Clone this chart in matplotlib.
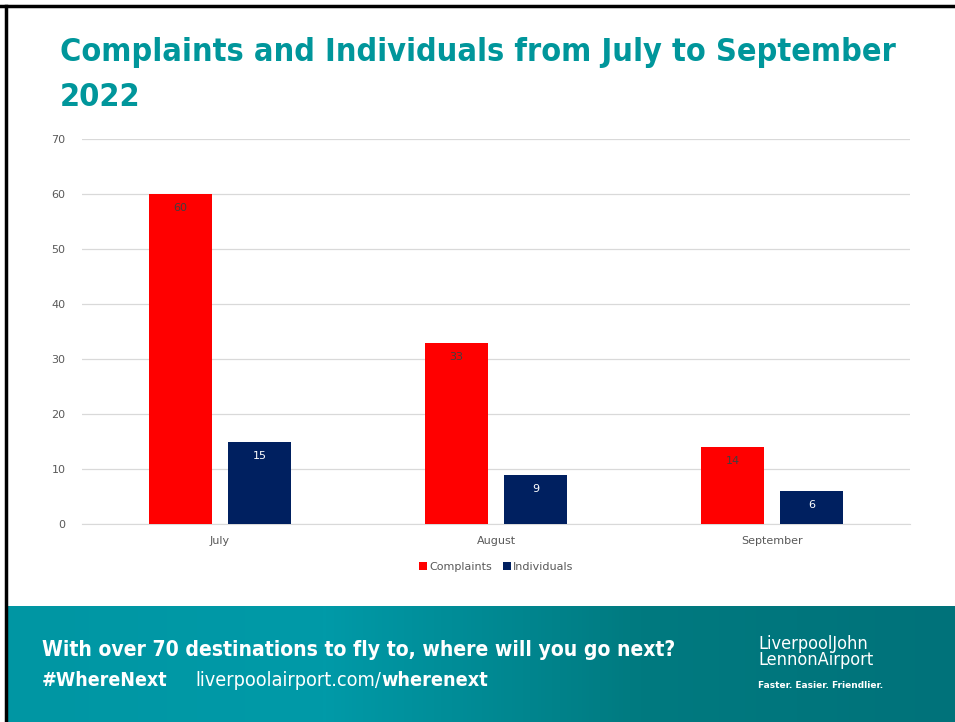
import numpy as np
import matplotlib.pyplot as plt
from matplotlib.colors import LinearSegmentedColormap

months = ['July', 'August', 'September']
complaints = [60, 33, 14]
individuals = [15, 9, 6]
y_ticks = [0, 10, 20, 30, 40, 50, 60, 70]

teal = '#00969b'
red = '#ff0000'
navy = '#002060'
grey_txt = '#595959'

fig = plt.figure(figsize=(9.55, 7.22), dpi=100)

# border lines (top and left)
fig.add_artist(plt.Line2D([0, 1], [1 - 6/722, 1 - 6/722], color='black', lw=2.5))
fig.add_artist(plt.Line2D([6/955, 6/955], [0, 1 - 6/722], color='black', lw=2.5))

# teal banner with gradient
bax = fig.add_axes([8/955, 0, 1 - 8/955, 116/722])
grad = np.linspace(0, 1, 256).reshape(1, -1)
cm = LinearSegmentedColormap.from_list('b', ['#0096a3', '#009aa8', '#007a80', '#00727a'])
bax.imshow(grad, aspect='auto', cmap=cm, extent=[0, 1, 0, 1])
bax.set_xlim(0, 1)
bax.set_ylim(0, 1)
bax.axis('off')

fstr = 'condensed'
fig.text(42/955, 1 - 650/722, 'With over 70 destinations to fly to, where will you go next?',
         color='white', fontsize=15.1, fontweight='bold', fontstretch=fstr, va='center')
fig.text(42/955, 1 - 681/722, '#WhereNext', color='white', fontsize=14,
         fontweight='bold', fontstretch=fstr, va='center')
t1 = fig.text(195/955, 1 - 681/722, 'liverpoolairport.com/', color='white', fontsize=14.2,
              fontstretch=fstr, va='center')
fig.canvas.draw()
bb = t1.get_window_extent()
fig.text(bb.x1 / 955, 1 - 681/722, 'wherenext', color='white', fontsize=14.2,
         fontweight='bold', fontstretch=fstr, va='center')
fig.text(758/955, 1 - 652/722, 'LiverpoolJohn\nLennonAirport', color='white', fontsize=13,
         va='center', linespacing=0.85, fontstretch=fstr)
fig.text(758/955, 1 - 686/722, 'Faster. Easier. Friendlier.', color='white', fontsize=6.5,
         fontweight='bold', va='center')

# title
fig.text(60/955, 1 - 52/722, 'Complaints and Individuals from July to September',
         color=teal, fontsize=23.2, fontweight='bold', fontstretch=fstr, va='center')
fig.text(60/955, 1 - 97/722, '2022', color=teal, fontsize=23.2, fontweight='bold',
         fontstretch=fstr, va='center')

# chart
ax = fig.add_axes([82/955, 1 - 524/722, 828/955, 385/722])
x = np.arange(len(months))
w = 0.225
b1 = ax.bar(x - 0.143, complaints, w, color=red, label='Complaints', zorder=3)
b2 = ax.bar(x + 0.143, individuals, w, color=navy, label='Individuals', zorder=3)
for rect, v in zip(b1, complaints):
    ax.text(rect.get_x() + rect.get_width() / 2, v - 2.6, str(v), ha='center', va='center',
            fontsize=8, color='#404040', zorder=4)
for rect, v in zip(b2, individuals):
    ax.text(rect.get_x() + rect.get_width() / 2, v - 2.6, str(v), ha='center', va='center',
            fontsize=8, color='white', zorder=4)

ax.set_xlim(-0.5, 2.5)
ax.set_ylim(0, 70)
ax.set_yticks(y_ticks)
ax.set_xticks(x)
ax.set_xticklabels(months)
ax.grid(axis='y', color='#d9d9d9', lw=0.9, zorder=0)
for s in ['top', 'right', 'left']:
    ax.spines[s].set_visible(False)
ax.spines['bottom'].set_color('#d9d9d9')
ax.tick_params(axis='both', length=0, labelsize=8, labelcolor=grey_txt)
ax.tick_params(axis='y', pad=12)
ax.tick_params(axis='x', pad=9)

leg = ax.legend(loc='upper center', bbox_to_anchor=(0.5, -0.073), ncol=2, frameon=False,
                fontsize=8, handlelength=0.7, handleheight=0.7, handletextpad=0.2,
                columnspacing=1.0)
for t in leg.get_texts():
    t.set_color(grey_txt)

fig.savefig('out.png', dpi=100)
